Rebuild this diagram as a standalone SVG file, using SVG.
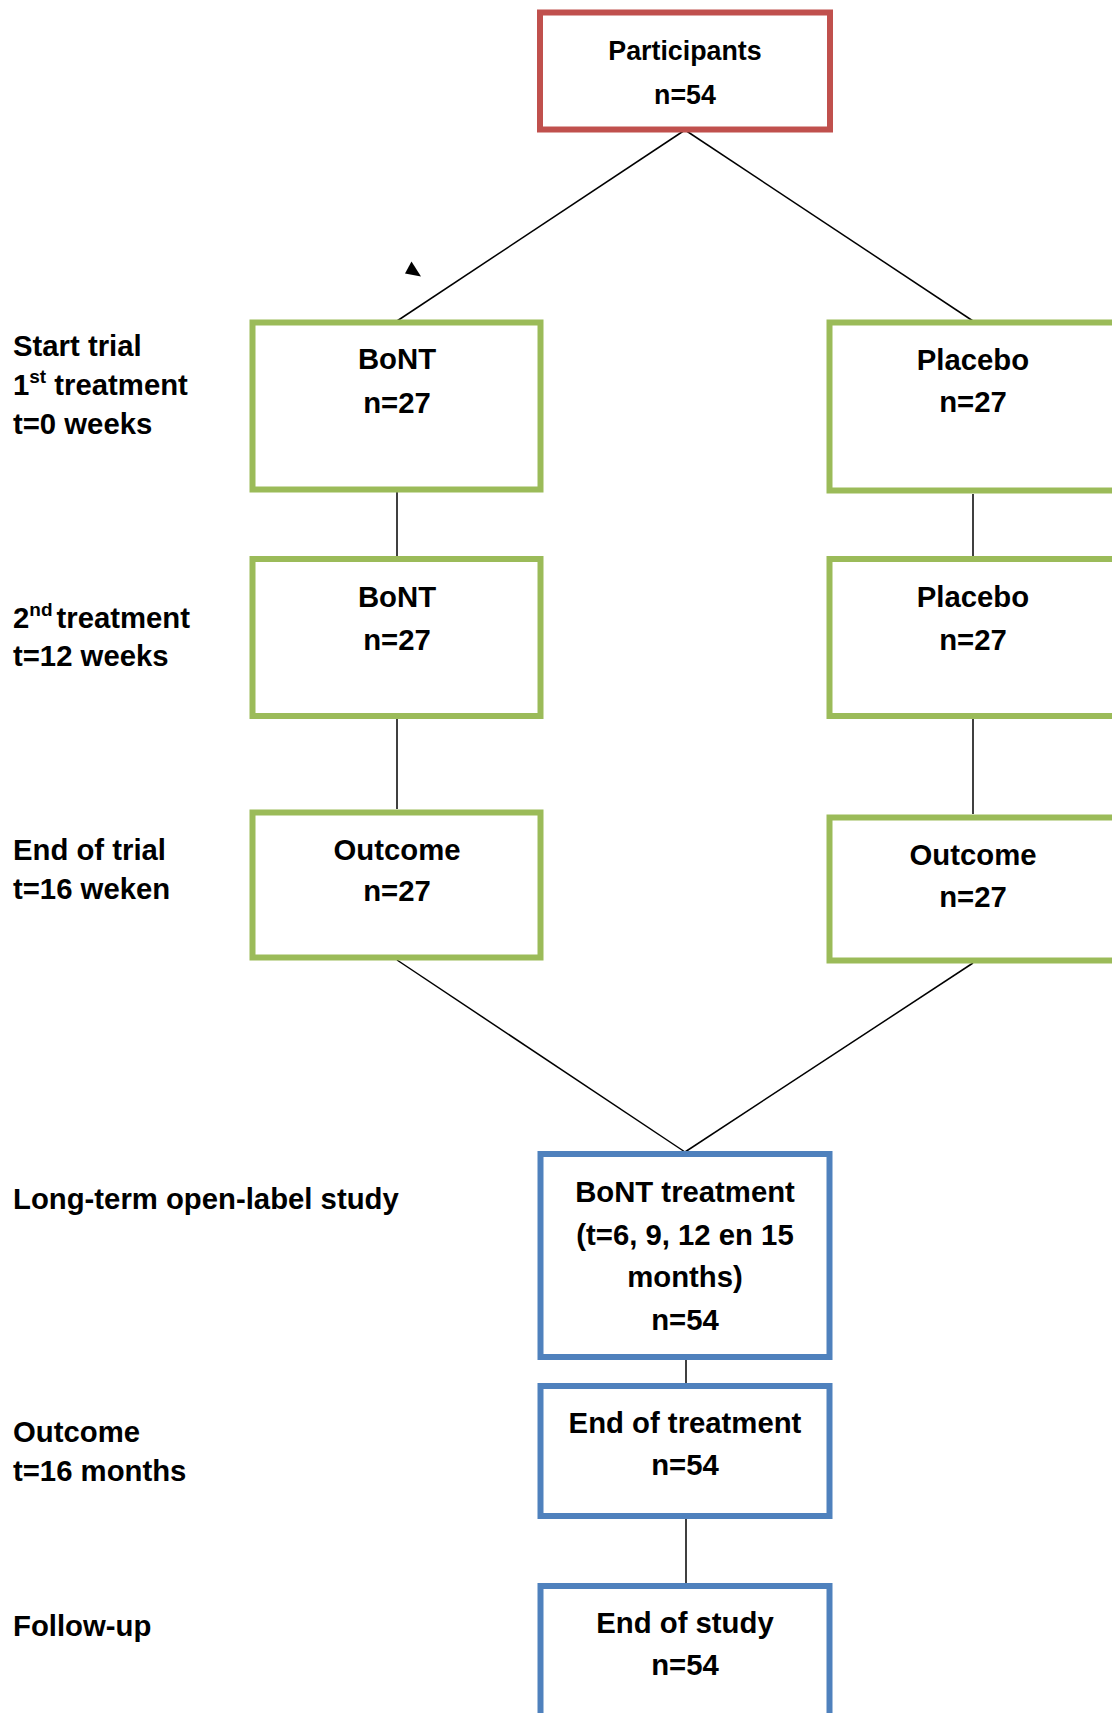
<svg xmlns="http://www.w3.org/2000/svg" width="1112" height="1713" viewBox="0 0 1112 1713">
<style>
text{font-family:"Liberation Sans",Arial,sans-serif;font-weight:bold;font-size:29.3px;fill:#000}
.c{text-anchor:middle}
.sup{font-size:19px}
.box{fill:#fff;stroke-width:6}
.red{stroke:#C0504D}
.green{stroke:#9BBB59}
.blue{stroke:#4F81BD}
.conn line{stroke:#000;stroke-width:1.5}
</style>
<rect width="1112" height="1713" fill="#fff"/>
<g id="labels">
<text x="13" y="356">Start trial</text>
<text x="13" y="395">1<tspan class="sup" dy="-12">st</tspan><tspan dy="12"> treatment</tspan></text>
<text x="13" y="434">t=0 weeks</text>
<text x="13" y="628">2<tspan class="sup" dy="-12">nd</tspan><tspan dy="12" dx="4">treatment</tspan></text>
<text x="13" y="666">t=12 weeks</text>
<text x="13" y="860">End of trial</text>
<text x="13" y="899">t=16 weken</text>
<text x="13" y="1209">Long-term open-label study</text>
<text x="13" y="1442">Outcome</text>
<text x="13" y="1481">t=16 months</text>
<text x="13" y="1636">Follow-up</text>
</g>
<g id="connectors" class="conn">
<line x1="685" y1="130" x2="397" y2="321"/>
<line x1="685" y1="130" x2="973" y2="321"/>
<line x1="397" y1="492" x2="397" y2="556"/>
<line x1="973" y1="494" x2="973" y2="557"/>
<line x1="397" y1="719" x2="397" y2="809"/>
<line x1="973" y1="719" x2="973" y2="814"/>
<line x1="397" y1="960" x2="685" y2="1152"/>
<line x1="973" y1="963" x2="685" y2="1152"/>
<line x1="686" y1="1360" x2="686" y2="1383"/>
<line x1="686" y1="1519" x2="686" y2="1583"/>
<polygon points="411.5,261.5 405,273.5 421,276.5" fill="#000"/>
</g>
<g id="participants">
<rect class="box red" x="540" y="12.5" width="290" height="117"/>
<text class="c" x="685" y="60" style="font-size:26.8px">Participants</text>
<text class="c" x="685" y="104" style="font-size:26.8px">n=54</text>
</g>
<g id="bont1">
<rect class="box green" x="252.5" y="322.5" width="288" height="167"/>
<text class="c" x="397" y="369">BoNT</text>
<text class="c" x="397" y="413">n=27</text>
</g>
<g id="placebo1">
<rect class="box green" x="829.5" y="322.5" width="288" height="168"/>
<text class="c" x="973" y="370">Placebo</text>
<text class="c" x="973" y="412">n=27</text>
</g>
<g id="bont2">
<rect class="box green" x="252.5" y="559" width="288" height="157"/>
<text class="c" x="397" y="607">BoNT</text>
<text class="c" x="397" y="650">n=27</text>
</g>
<g id="placebo2">
<rect class="box green" x="829.5" y="559" width="288" height="157"/>
<text class="c" x="973" y="607">Placebo</text>
<text class="c" x="973" y="650">n=27</text>
</g>
<g id="outcome1">
<rect class="box green" x="252.5" y="812.5" width="288" height="145"/>
<text class="c" x="397" y="860">Outcome</text>
<text class="c" x="397" y="901">n=27</text>
</g>
<g id="outcome2">
<rect class="box green" x="829.5" y="817.5" width="288" height="143"/>
<text class="c" x="973" y="865">Outcome</text>
<text class="c" x="973" y="907">n=27</text>
</g>
<g id="bont-treatment">
<rect class="box blue" x="540.5" y="1154" width="289" height="203"/>
<text class="c" x="685" y="1202">BoNT treatment</text>
<text class="c" x="685" y="1245">(t=6, 9, 12 en 15</text>
<text class="c" x="685" y="1287">months)</text>
<text class="c" x="685" y="1330">n=54</text>
</g>
<g id="end-treatment">
<rect class="box blue" x="540.5" y="1386" width="289" height="130"/>
<text class="c" x="685" y="1433">End of treatment</text>
<text class="c" x="685" y="1475">n=54</text>
</g>
<g id="end-study">
<rect class="box blue" x="540.5" y="1586" width="289" height="200"/>
<text class="c" x="685" y="1633">End of study</text>
<text class="c" x="685" y="1675">n=54</text>
</g>
</svg>
